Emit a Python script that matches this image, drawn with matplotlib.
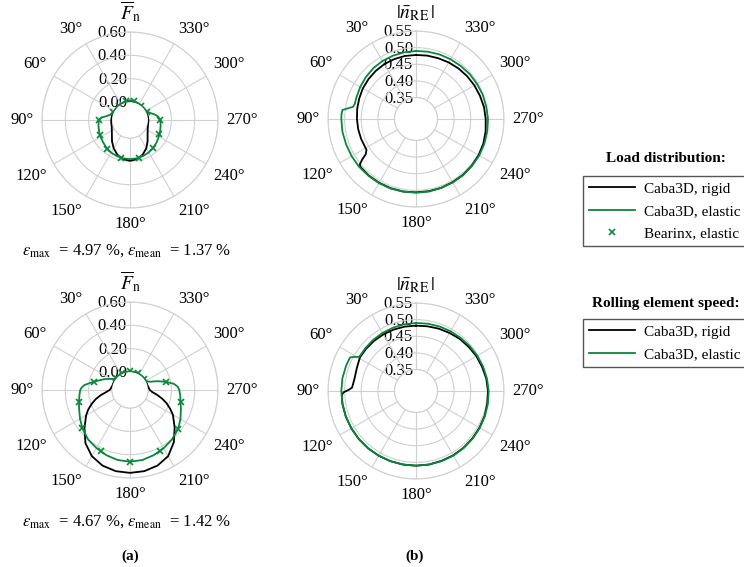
import numpy as np
import matplotlib.pyplot as plt
from matplotlib.lines import Line2D
from matplotlib import transforms

plt.rcParams['font.family'] = ['Liberation Serif', 'DejaVu Serif']
plt.rcParams['mathtext.fontset'] = 'stix'

GREEN = '#0a873c'
GRID = '#d0d0d0'

# ---- load distribution, case 1 (normalised contact force vs. angle in deg) ----
load1_rigid_deg = [0, 10, 20, 30, 40, 50, 60, 70, 80, 90, 100, 110, 120, 130, 140, 150,
                   160, 170, 180, 190, 200, 210, 220, 230, 240, 250, 260, 270, 280, 290,
                   300, 310, 320, 330, 340, 350, 360]
load1_rigid = [0, 0, 0, 0, 0, 0, 0, 0.002, 0.004, 0.006, 0.008, 0.012, 0.025, 0.048, 0.085,
               0.125, 0.162, 0.186, 0.195, 0.186, 0.162, 0.125, 0.08, 0.042, 0.02, 0.008,
               0.004, 0.003, 0.002, 0, 0, 0, 0, 0, 0, 0, 0]
load1_elastic_deg = [0, 10, 20, 30, 40, 50, 60, 70, 75, 80, 85, 90, 100, 110, 120, 130, 140,
                     150, 160, 170, 180, 190, 200, 210, 220, 230, 240, 250, 260, 270, 278,
                     284, 290, 296, 310, 320, 330, 340, 350, 360]
load1_elastic = [0.012, 0.011, 0.008, 0.004, 0.002, 0.001, 0.003, 0.01, 0.02, 0.045, 0.09,
                 0.112, 0.12, 0.128, 0.136, 0.145, 0.158, 0.168, 0.175, 0.179, 0.18, 0.179,
                 0.174, 0.166, 0.156, 0.143, 0.13, 0.12, 0.112, 0.105, 0.085, 0.055, 0.025,
                 0.008, 0.002, 0.002, 0.004, 0.008, 0.011, 0.012]
bearinx1_deg = [12.86, 38.57, 64.29, 90.0, 115.71, 141.43, 167.14, 192.86, 218.57, 244.29,
                270.0, 295.71, 321.43, 347.14]
bearinx1 = [0.01, 0.002, 0.006, 0.112, 0.132, 0.159, 0.178, 0.178, 0.155, 0.125, 0.105,
            0.009, 0.002, 0.01]

# ---- load distribution, case 2 ----
load2_rigid_deg = [0, 10, 20, 30, 40, 50, 60, 70, 75, 80, 85, 90, 95, 100, 105, 110, 115,
                   120, 130, 140, 150, 160, 170, 180, 190, 200, 210, 220, 230, 240, 245,
                   250, 255, 260, 265, 270, 275, 280, 285, 290, 300, 310, 320, 330, 340,
                   350, 360]
load2_rigid = [0, 0, 0, 0, 0, 0, 0, 0, 0, 0.005, 0.01, 0.02, 0.05, 0.1, 0.15, 0.195, 0.24,
               0.28, 0.355, 0.44, 0.5, 0.535, 0.552, 0.556, 0.552, 0.535, 0.5, 0.43, 0.345,
               0.27, 0.225, 0.18, 0.13, 0.08, 0.035, 0.015, 0.008, 0.004, 0, 0, 0, 0, 0,
               0, 0, 0, 0]
load2_elastic_deg = [0, 10, 20, 30, 40, 50, 55, 58, 63, 68, 73, 77, 81, 84, 87, 90, 95, 103,
                     110, 120, 129, 140, 150, 160, 170, 180, 190, 200, 210, 220, 231, 240,
                     250, 257, 264, 270, 274, 278, 283, 288, 292, 296, 300, 310, 320, 330,
                     340, 350, 360]
load2_elastic = [0.005, 0.005, 0.005, 0.004, 0.003, 0.004, 0.01, 0.025, 0.055, 0.09, 0.125,
                 0.16, 0.205, 0.24, 0.26, 0.272, 0.28, 0.294, 0.31, 0.34, 0.37, 0.402, 0.42,
                 0.44, 0.455, 0.46, 0.455, 0.44, 0.422, 0.402, 0.376, 0.345, 0.31, 0.29,
                 0.278, 0.268, 0.255, 0.225, 0.16, 0.09, 0.035, 0.012, 0.005, 0.003, 0.003,
                 0.004, 0.005, 0.005, 0.005]
bearinx2_deg = [0.0, 25.71, 51.43, 77.14, 102.86, 128.57, 154.29, 180.0, 205.71, 231.43,
                257.14, 282.86, 308.57, 334.29]
bearinx2 = [0.005, 0.004, 0.004, 0.16, 0.294, 0.37, 0.428, 0.46, 0.43, 0.376, 0.29, 0.16,
            0.003, 0.004]

# ---- rolling element speed, case 1 ----
speed1_rigid_deg = [0, 10, 20, 30, 40, 50, 60, 70, 80, 90, 100, 110, 118, 122, 125, 127, 129,
                    131, 140, 150, 160, 170, 180, 190, 200, 210, 220, 230, 240, 250, 260,
                    270, 280, 290, 300, 310, 320, 330, 340, 350, 360]
speed1_rigid = [0.478, 0.478, 0.477, 0.476, 0.474, 0.472, 0.47, 0.467, 0.465, 0.463, 0.462,
                0.461, 0.46, 0.461, 0.47, 0.488, 0.503, 0.506, 0.507, 0.507, 0.507, 0.507,
                0.506, 0.506, 0.506, 0.505, 0.505, 0.504, 0.503, 0.501, 0.498, 0.495, 0.493,
                0.49, 0.488, 0.486, 0.484, 0.482, 0.48, 0.479, 0.478]
speed1_elastic_deg = [0, 10, 20, 30, 40, 50, 60, 70, 76, 79, 81, 83, 86, 90, 100, 110, 120,
                      130, 140, 150, 160, 170, 180, 190, 200, 210, 220, 230, 240, 250, 260,
                      270, 280, 290, 300, 310, 320, 330, 340, 350, 360]
speed1_elastic = [0.49, 0.489, 0.488, 0.487, 0.485, 0.482, 0.479, 0.476, 0.475, 0.478, 0.492,
                  0.508, 0.51, 0.51, 0.51, 0.509, 0.509, 0.509, 0.508, 0.508, 0.508, 0.507,
                  0.507, 0.507, 0.506, 0.506, 0.506, 0.505, 0.505, 0.504, 0.503, 0.502, 0.5,
                  0.499, 0.497, 0.496, 0.494, 0.493, 0.492, 0.491, 0.49]

# ---- rolling element speed, case 2 ----
speed2_rigid_deg = [0, 10, 20, 30, 40, 50, 59, 63, 67, 72, 78, 84, 87, 89, 91, 93, 100, 110,
                    120, 130, 140, 150, 160, 170, 180, 190, 200, 210, 220, 230, 240, 250,
                    260, 270, 280, 290, 300, 310, 320, 330, 340, 350, 360]
speed2_rigid = [0.482, 0.482, 0.482, 0.482, 0.482, 0.482, 0.482, 0.479, 0.477, 0.475, 0.474,
                0.476, 0.478, 0.488, 0.503, 0.509, 0.51, 0.51, 0.51, 0.51, 0.51, 0.51, 0.51,
                0.51, 0.51, 0.51, 0.509, 0.509, 0.508, 0.507, 0.506, 0.505, 0.503, 0.502,
                0.5, 0.497, 0.495, 0.492, 0.49, 0.487, 0.485, 0.483, 0.482]
speed2_elastic_deg = [0, 10, 20, 30, 40, 50, 56, 59, 61, 63, 70, 80, 90, 100, 110, 120, 130,
                      140, 150, 160, 170, 180, 190, 200, 210, 220, 230, 240, 250, 260, 270,
                      280, 290, 300, 310, 320, 330, 340, 350, 360]
speed2_elastic = [0.49, 0.489, 0.488, 0.487, 0.486, 0.485, 0.484, 0.485, 0.497, 0.508, 0.509,
                  0.51, 0.51, 0.51, 0.51, 0.51, 0.51, 0.51, 0.51, 0.51, 0.51, 0.51, 0.51,
                  0.51, 0.51, 0.509, 0.508, 0.507, 0.506, 0.505, 0.504, 0.502, 0.5, 0.498,
                  0.496, 0.494, 0.493, 0.492, 0.491, 0.49]

load_ticks = [0.0, 0.2, 0.4, 0.6]
speed_ticks = [0.35, 0.40, 0.45, 0.50, 0.55]
theta_ticks = list(range(0, 360, 30))

W, H = 744, 567
R = 88         # outer circle radius in pixels
LABEL_GAP = 8  # distance from circle to nearest edge of an angle label, pixels

fig = plt.figure(figsize=(W / 100, H / 100), dpi=100)


def polar_axes(cx, cy):
    ax = fig.add_axes([(cx - R) / W, 1 - (cy + R) / H, 2 * R / W, 2 * R / H],
                      projection='polar')
    ax.set_theta_zero_location('N')
    ax.set_theta_direction(1)
    return ax


def angle_labels(ax, qty):
    # labels anchored by the edge that faces the circle; quantity name sits at 0 deg
    labels = [qty] + [f'{a}°' for a in theta_ticks[1:]]
    rr = (R + LABEL_GAP) / (2 * R)
    for a, lab in zip(theta_ticks, labels):
        dx = -np.sin(np.deg2rad(a))
        dy = np.cos(np.deg2rad(a))
        ha = 'right' if dx < -0.1 else ('left' if dx > 0.1 else 'center')
        va = 'bottom' if dy > 0.1 else ('top' if dy < -0.1 else 'center')
        ax.text(0.5 + dx * rr, 0.5 + dy * rr, lab, transform=ax.transAxes,
                ha=ha, va=va, fontsize=14 if a == 0 else 12)


def style(ax, rmin, rmax, rorigin, rticks, qty):
    ax.set_ylim(rmin, rmax)
    ax.set_rorigin(rorigin)
    ax.set_yticks(rticks)
    ax.set_yticklabels([])
    ax.set_thetagrids(theta_ticks, [''] * len(theta_ticks))
    ax.grid(True, color=GRID, lw=0.8)
    for s in ax.spines.values():
        s.set_color(GRID)
        s.set_linewidth(0.8)
    angle_labels(ax, qty)
    off = transforms.offset_copy(ax.transData, fig=fig, x=-3, y=-1, units='dots')
    for v in rticks:
        ax.text(0, v, f'{v:.2f}', transform=off, ha='right', va='center',
                fontsize=12, zorder=1)


def deg(a):
    return np.deg2rad(a)


# (a) load distribution
f_label = r'$\overline{F}_{\mathrm{n}}$'
for cy, rig_t, rig, el_t, el, bx_t, bx in [
        (120, load1_rigid_deg, load1_rigid, load1_elastic_deg, load1_elastic,
         bearinx1_deg, bearinx1),
        (390, load2_rigid_deg, load2_rigid, load2_elastic_deg, load2_elastic,
         bearinx2_deg, bearinx2)]:
    ax = polar_axes(130, cy)
    style(ax, 0.0, 0.6, -0.155, load_ticks, f_label)
    ax.plot(deg(rig_t), rig, color='black', lw=1.3, zorder=3)
    ax.plot(deg(el_t), el, color=GREEN, lw=1.3, zorder=4)
    ax.plot(deg(bx_t), bx, ls='none', marker='x', ms=4, mew=1.2, color=GREEN, zorder=5)

# (b) rolling element speed
n_label = r'$|\bar{n}_{\mathrm{RE}}\,|$'
for cy, rig_t, rig, el_t, el in [
        (119, speed1_rigid_deg, speed1_rigid, speed1_elastic_deg, speed1_elastic),
        (391, speed2_rigid_deg, speed2_rigid, speed2_elastic_deg, speed2_elastic)]:
    ax = polar_axes(416, cy)
    style(ax, 0.35, 0.55, 0.35 - 0.0644, speed_ticks, n_label)
    ax.plot(deg(rig_t), rig, color='black', lw=1.3, zorder=3)
    ax.plot(deg(el_t), el, color=GREEN, lw=1.3, zorder=4)

# error annotations and sub-figure captions
fig.text(22 / W, 1 - 251 / H,
         r'$\varepsilon_{\mathrm{max}}$  = 4.97 %, $\varepsilon_{\mathrm{mean}}$  = 1.37 %',
         ha='left', va='center', fontsize=12)
fig.text(22 / W, 1 - 522 / H,
         r'$\varepsilon_{\mathrm{max}}$  = 4.67 %, $\varepsilon_{\mathrm{mean}}$  = 1.42 %',
         ha='left', va='center', fontsize=12)
fig.text(130 / W, 1 - 556 / H, '(a)', ha='center', va='center', fontsize=11,
         fontweight='bold')
fig.text(415 / W, 1 - 556 / H, '(b)', ha='center', va='center', fontsize=11,
         fontweight='bold')

# legends
rigid_h = Line2D([], [], color='black', lw=1.3)
elastic_h = Line2D([], [], color=GREEN, lw=1.3)
bx_h = Line2D([], [], ls='none', marker='x', ms=4, mew=1.2, color=GREEN)

legend_kw = dict(loc='upper left', fontsize=11, frameon=True, fancybox=False,
                 framealpha=1, edgecolor='#555555', borderaxespad=0, borderpad=0.4,
                 labelspacing=0.55, handlelength=3.0, handletextpad=0.6)

fig.text(666 / W, 1 - 158 / H, 'Load distribution:', ha='center', va='center',
         fontsize=11, fontweight='bold')
leg1 = fig.legend([rigid_h, elastic_h, bx_h],
                  ['Caba3D, rigid', 'Caba3D, elastic', 'Bearinx, elastic'],
                  bbox_to_anchor=(583 / W, 1 - 176 / H), **legend_kw)
leg1.get_frame().set_linewidth(1.0)

fig.text(666 / W, 1 - 303 / H, 'Rolling element speed:', ha='center', va='center',
         fontsize=11, fontweight='bold')
leg2 = fig.legend([rigid_h, elastic_h],
                  ['Caba3D, rigid', 'Caba3D, elastic'],
                  bbox_to_anchor=(583 / W, 1 - 319 / H), **legend_kw)
leg2.get_frame().set_linewidth(1.0)

fig.savefig('out.png', dpi=100, facecolor='white')
